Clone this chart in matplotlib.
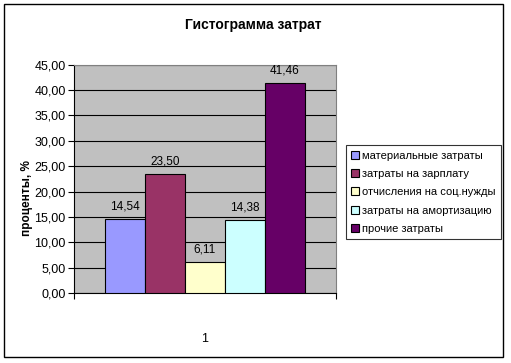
import numpy as np
import matplotlib.pyplot as plt
from matplotlib.patches import Rectangle

plt.rcParams['font.family'] = ['Liberation Sans', 'DejaVu Sans']

# данные
kategorie = ['материальные затраты', 'затраты на зарплату', 'отчисления на соц.нужды',
             'затраты на амортизацию', 'прочие затраты']
hodnoty = [14.54, 23.50, 6.11, 14.38, 41.46]
barvy = ['#9999FF', '#993366', '#FFFFCC', '#CCFFFF', '#660066']
yticks = np.arange(0, 46, 5)

W, H = 511, 363
fig = plt.figure(figsize=(W / 100, H / 100), dpi=100)
fig.patch.set_facecolor('white')
# ramecek kolem grafu
fig.patches.append(Rectangle((4 / W, 6 / H), 499 / W, 353 / H, transform=fig.transFigure,
                             fill=False, edgecolor='black', linewidth=1.0))

ax = fig.add_axes([74 / W, (H - 293) / H, 261.7 / W, 228.3 / H])
ax.set_facecolor('#C0C0C0')

w = 40 / 261.7
for i, (k, v, c) in enumerate(zip(kategorie, hodnoty, barvy)):
    x = (i - 2) * w
    ax.bar(x, v, width=w, color=c, edgecolor='black', linewidth=0.8, label=k, zorder=3)
    ax.text(x, v + 1.3, f'{v:.2f}'.replace('.', ','), ha='center', va='bottom', fontsize=8.5, zorder=4)

ax.set_xlim(-0.5, 0.5)
ax.set_ylim(0, 45)
ax.set_yticks(yticks)
ax.set_yticklabels([f'{t:.2f}'.replace('.', ',') for t in yticks], fontsize=9)
ax.yaxis.grid(True, color='black', linewidth=0.8, zorder=1)
ax.set_axisbelow(True)
ax.tick_params(axis='y', direction='out', length=4, width=0.8, pad=2)

ax.set_xticks([0])
ax.set_xticklabels(['1'], fontsize=9)
ax.set_xticks([-0.5, 0.5], minor=True)
ax.tick_params(axis='x', which='major', length=0, pad=29)
ax.tick_params(axis='x', which='minor', direction='out', length=4, width=0.8)

for s in ['top', 'right']:
    ax.spines[s].set_color('#808080')
for s in ['left', 'bottom']:
    ax.spines[s].set_color('black')
for s in ax.spines.values():
    s.set_linewidth(0.8)

ax.set_ylabel('проценты, %', fontsize=8.5, fontweight='bold')
ax.yaxis.set_label_coords(-0.155, 0.418)
fig.text(0.5 * (4 + 503) / W, 1 - 25 / H, 'Гистограмма затрат', ha='center', va='center',
         fontsize=10, fontweight='bold')

leg = fig.legend(loc='upper left', bbox_to_anchor=(345.7 / W, 1 - 145 / H), borderaxespad=0,
                 fontsize=8, frameon=True, fancybox=False, edgecolor='black',
                 handlelength=0.7, handleheight=0.7, handletextpad=0.3, labelspacing=0.75,
                 borderpad=0.5)
leg.get_frame().set_linewidth(0.8)

fig.savefig('out.png', dpi=100)
